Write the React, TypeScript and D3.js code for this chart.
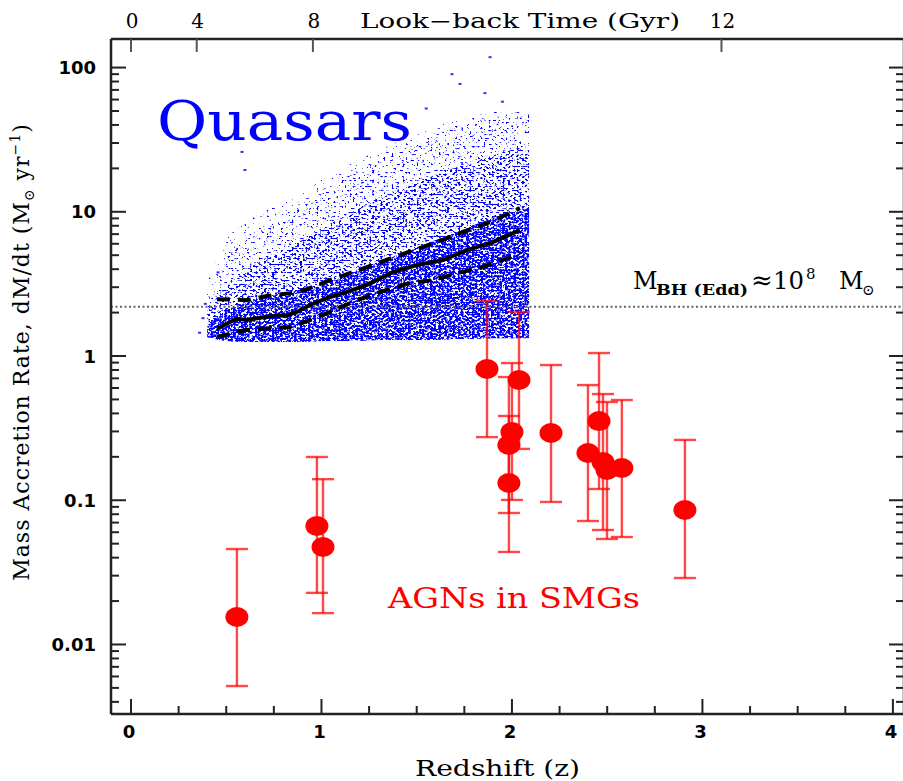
import React from 'react';
import * as d3 from 'd3';

// ---- data ----
// AGNs in SMGs (red points with error bars)
const smgZ = [0.556, 0.976, 1.008, 1.869, 2.037, 2.0, 1.984, 1.984, 2.205, 2.457, 2.399, 2.478, 2.499, 2.577, 2.908];
const smgRate = [0.0155, 0.0663, 0.0474, 0.813, 0.682, 0.297, 0.2415, 0.1318, 0.2926, 0.354, 0.2128, 0.184, 0.162, 0.1674, 0.0856];
const smgLo = [0.00515, 0.0228, 0.0165, 0.274, 0.227, 0.1005, 0.0816, 0.0438, 0.0973, 0.1197, 0.0718, 0.0622, 0.0539, 0.0556, 0.0289];
const smgHi = [0.0459, 0.1995, 0.14, 2.41, 2.02, 0.894, 0.715, 0.384, 0.866, 1.049, 0.629, 0.545, 0.48, 0.4955, 0.262];

// quasar running median and 1-sigma lines
const medZ = [0.451, 0.52, 0.556, 0.609, 0.661, 0.73, 0.819, 0.871, 0.94, 1.029, 1.134, 1.239, 1.375, 1.501, 1.638, 1.764, 1.9, 2.042];
const medRate = [1.54, 1.72, 1.81, 1.78, 1.83, 1.89, 1.92, 2.02, 2.26, 2.52, 2.78, 3.11, 3.82, 4.27, 4.63, 5.43, 6.17, 7.47];
const upZ = [0.451, 0.609, 0.714, 0.835, 0.913, 1.045, 1.165, 1.297, 1.412, 1.533, 1.659, 1.769, 1.885, 2.042];
const upRate = [2.48, 2.44, 2.61, 2.73, 2.87, 3.36, 3.82, 4.41, 5.01, 5.7, 6.58, 7.47, 8.49, 10.6];
const loZ = [0.451, 0.593, 0.73, 0.835, 0.929, 1.045, 1.176, 1.323, 1.465, 1.585, 1.717, 1.843, 1.979, 2.042];
const loRate = [1.355, 1.51, 1.56, 1.59, 1.75, 2.02, 2.41, 2.82, 3.21, 3.36, 3.76, 4.14, 4.78, 5.26];

// quasar cloud envelopes (lower edge, dense core top, bulk top, outer top, faint halo top)
const cloudZ = [0.4, 0.5, 0.6, 0.7, 0.8, 0.9, 1.0, 1.1, 1.2, 1.3, 1.4, 1.5, 1.6, 1.7, 1.8, 1.9, 2.0, 2.09];
const cloudLow = [1.35, 1.27, 1.25, 1.25, 1.25, 1.25, 1.27, 1.27, 1.27, 1.29, 1.29, 1.29, 1.29, 1.31, 1.31, 1.33, 1.33, 1.33];
const cloudCore = [1.6, 2.08, 2.33, 2.56, 2.73, 2.87, 3.11, 3.47, 3.95, 4.48, 5.01, 5.61, 6.37, 7.12, 8.09, 9.05, 9.96, 10.6];
const cloudBulk = [2.0, 3.1, 3.95, 4.63, 5.43, 6.37, 7.7, 9.05, 10.6, 12.5, 14.2, 16.1, 18, 20.1, 22.8, 24.7, 26.8, 27.7];
const cloudOuter = [2.6, 5.0, 6.4, 7.7, 9.5, 11.1, 14.2, 16.6, 19.5, 22.8, 26.8, 29, 34, 38, 41.9, 44.7, 46.9, 46.9];
const cloudHalo = [3.2, 6.5, 8.5, 10, 12, 14, 17, 20, 23, 27, 31, 34, 39, 43, 46, 49, 50, 50];
const strayZ = [1.885, 1.685, 1.727, 1.858, 0.583, 0.598, 0.378, 0.457, 1.55, 1.95, 0.36, 0.39];
const strayRate = [118, 90, 77, 66.5, 26, 19.5, 1.83, 3.8, 52, 58, 1.45, 2.3];

const eddRate = 2.2;
const xMajor = [0, 1, 2, 3, 4];
const yMajor = [0.01, 0.1, 1, 10, 100];
const yMajorLabels = ['0.01', '0.1', '1', '10', '100'];
const lookTicks = ['0', '4', '8', '12'];
const lookZ = [0, 0.345, 0.955, 3.1];

const L = 111, R = 904, T = 39, B = 714;

export default function App() {
  const x = d3.scaleLinear().domain([-0.105, 4.053]).range([L, 903]);
  const y = d3.scaleLog().domain([10 ** -2.482, 10 ** 2.198]).range([B, T]);

  const band = (top: number[]) =>
    d3.area<number>()
      .x((_, i) => x(cloudZ[i]))
      .y0((_, i) => y(cloudLow[i]))
      .y1((_, i) => y(top[i]))
      .curve(d3.curveMonotoneX)(cloudZ) || '';

  const line = (zs: number[], vs: number[]) =>
    d3.line<number>().x((_, i) => x(zs[i])).y((_, i) => y(vs[i]))(zs) || '';

  const xMinor = d3.range(0, 4.01, 0.25).filter(v => Math.abs(v - Math.round(v)) > 0.01);
  const yMinor: number[] = [];
  for (let d = -3; d <= 2; d++) for (let k = 2; k <= 9; k++) {
    const v = k * 10 ** d;
    if (y(v) < B && y(v) > T) yMinor.push(v);
  }

  const serif = 'DejaVu Serif';
  const sans = 'DejaVu Sans';
  // speckle textures for the density bands of the quasar cloud
  const specks = [
    { id: 'spHalo', seed: 19, t: 0.33, top: cloudHalo },
    { id: 'spOuter', seed: 3, t: 0.36, top: cloudOuter },
    { id: 'spBulk', seed: 7, t: 0.45, top: cloudBulk },
    { id: 'spCore', seed: 11, t: 0.54, top: cloudCore },
  ];
  const eddY = y(eddRate) - 18;

  return (
    <svg width={903} height={781} style={{ position: 'absolute', left: 0, top: 0, background: '#fff' }}>
      <defs>
        {specks.map(s => (
          <filter key={s.id} id={s.id} filterUnits="userSpaceOnUse" x={180} y={40} width={370} height={320}
            colorInterpolationFilters="sRGB">
            <feTurbulence type="fractalNoise" baseFrequency="0.36 0.5" numOctaves={1} seed={s.seed} result="n" />
            <feColorMatrix in="n" type="matrix"
              values={`0 0 0 0 0  0 0 0 0 0  0 0 0 0 0  -14 0 0 0 ${14 * s.t}`} result="d" />
            <feFlood floodColor="#0000ff" result="f" />
            <feComposite in="f" in2="d" operator="in" result="fd" />
            <feComposite in="fd" in2="SourceGraphic" operator="in" />
          </filter>
        ))}
      </defs>

      {/* quasar cloud */}
      {specks.map(s => (
        <path key={s.id} d={band(s.top)} fill="#0000ff" filter={`url(#${s.id})`} />
      ))}
      {strayZ.map((z, i) => (
        <rect key={i} x={x(z) - 1.5} y={y(strayRate[i]) - 1} width={3} height={2} fill="#3030ff" />
      ))}

      {/* Eddington line */}
      <line x1={L} x2={R} y1={y(eddRate)} y2={y(eddRate)} stroke="#666" strokeWidth={2} strokeDasharray="2,2.5" />

      {/* median and spread */}
      <path d={line(upZ, upRate)} fill="none" stroke="#000" strokeWidth={4} strokeDasharray="13,8" />
      <path d={line(loZ, loRate)} fill="none" stroke="#000" strokeWidth={4} strokeDasharray="13,8" />
      <path d={line(medZ, medRate)} fill="none" stroke="#000" strokeWidth={4} />

      {/* SMG AGNs */}
      <g stroke="#ff0000" strokeWidth={2.4} strokeOpacity={0.72}>
        {smgZ.map((z, i) => (
          <g key={i}>
            <line x1={x(z)} x2={x(z)} y1={y(smgLo[i])} y2={y(smgHi[i])} />
            <line x1={x(z) - 11} x2={x(z) + 11} y1={y(smgLo[i])} y2={y(smgLo[i])} />
            <line x1={x(z) - 11} x2={x(z) + 11} y1={y(smgHi[i])} y2={y(smgHi[i])} />
          </g>
        ))}
      </g>
      {smgZ.map((z, i) => (
        <ellipse key={i} cx={x(z)} cy={y(smgRate[i])} rx={11.5} ry={10} fill="#ff0000" />
      ))}

      {/* labels inside */}
      <text x={157} y={140} fontFamily={serif} fontSize={55} fill="#0000ff" textLength={255} lengthAdjust="spacingAndGlyphs">Quasars</text>
      <text x={388} y={608} fontFamily={serif} fontSize={27} fill="#ff0000" textLength={252} lengthAdjust="spacingAndGlyphs">AGNs in SMGs</text>
      <text y={eddY} fontFamily={serif} fontSize={24} fill="#000">
        <tspan x={633}>M</tspan>
        <tspan x={656} dy={6} fontSize={14} fontWeight="bold" textLength={92} lengthAdjust="spacingAndGlyphs">BH (Edd)</tspan>
        <tspan x={751} dy={-6} fontSize={26}>≈</tspan>
        <tspan x={773} textLength={31} lengthAdjust="spacingAndGlyphs">10</tspan>
        <tspan x={806} dy={-10} fontSize={15}>8</tspan>
        <tspan x={839} dy={10}>M</tspan>
        <tspan x={862} dy={6} fontSize={15}>⊙</tspan>
      </text>

      {/* frame */}
      <g stroke="#222" strokeWidth={2.5} fill="none">
        <line x1={L} x2={R} y1={T} y2={T} />
        <line x1={L} x2={R} y1={B} y2={B} />
        <line x1={L} x2={L} y1={T} y2={B} />
        <line x1={R} x2={R} y1={T} y2={B} />
      </g>
      <g stroke="#222" strokeWidth={2}>
        {xMajor.map(v => <line key={v} x1={x(v)} x2={x(v)} y1={B} y2={B - 15} />)}
        {xMinor.map(v => <line key={v} x1={x(v)} x2={x(v)} y1={B} y2={B - 8} />)}
        {yMajor.map(v => <line key={'l' + v} x1={L} x2={L + 15} y1={y(v)} y2={y(v)} />)}
        {yMinor.map(v => <line key={'lm' + v} x1={L} x2={L + 8} y1={y(v)} y2={y(v)} />)}
        {yMajor.map(v => <line key={'r' + v} x1={R} x2={R - 15} y1={y(v)} y2={y(v)} />)}
        {yMinor.map(v => <line key={'rm' + v} x1={R} x2={R - 8} y1={y(v)} y2={y(v)} />)}
        {lookZ.map((z, i) => <line key={'t' + i} x1={x(z)} x2={x(z)} y1={T} y2={T + 13} stroke="#555" />)}
      </g>

      {/* tick labels */}
      {xMajor.map(v => (
        <text key={v} x={x(v) - 2} y={738} textAnchor="middle" fontFamily={sans} fontWeight="bold" fontSize={18}>{v}</text>
      ))}
      {yMajor.map((v, i) => (
        <text key={v} x={96} y={y(v) + 6.5} textAnchor="end" fontFamily={sans} fontWeight="bold" fontSize={18}>{yMajorLabels[i]}</text>
      ))}
      {lookZ.map((z, i) => (
        <text key={i} x={x(z) + 1} y={28} textAnchor="middle" fontFamily={serif} fontSize={20}>{lookTicks[i]}</text>
      ))}

      {/* axis titles */}
      <text x={360} y={28} fontFamily={serif} fontSize={20} textLength={320} lengthAdjust="spacingAndGlyphs">Look−back Time (Gyr)</text>
      <text x={415} y={776} fontFamily={serif} fontSize={22} textLength={165} lengthAdjust="spacingAndGlyphs">Redshift (z)</text>
      <text transform="translate(29,352) rotate(-90)" textAnchor="middle" fontFamily={serif} fontSize={22} letterSpacing={1}>
        Mass Accretion Rate, dM/dt (M<tspan fontSize={14} dy={5}>⊙</tspan>
        <tspan dy={-5}> yr</tspan><tspan fontSize={14} dy={-9}>−1</tspan><tspan dy={9}>)</tspan>
      </text>
    </svg>
  );
}
